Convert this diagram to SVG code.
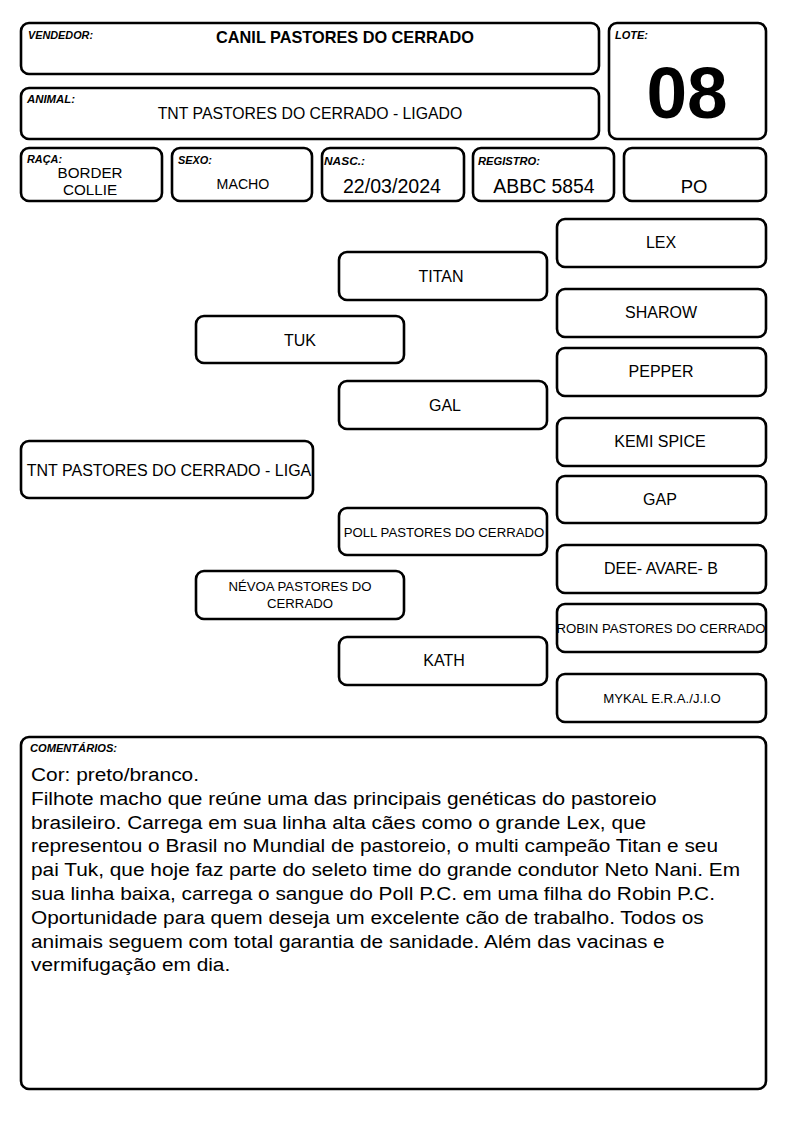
<svg xmlns="http://www.w3.org/2000/svg" width="794" height="1123" viewBox="0 0 794 1123">
<style>
.box{fill:#fff;stroke:#000;stroke-width:2.6}
.lbl{font-family:"Liberation Sans",Arial,sans-serif;font-size:10.2px;font-weight:bold;font-style:italic;fill:#000}
.t{font-family:"Liberation Sans",Arial,sans-serif;fill:#000;text-anchor:middle}
.p{font-size:16px}
.s{font-size:13.2px}
.c{font-family:"Liberation Sans",Arial,sans-serif;font-size:19px;fill:#000}
</style>
<rect width="794" height="1123" fill="#fff"/>
<g id="vendedor">
<rect class="box" x="21" y="23" width="578" height="51" rx="8"/>
<text class="lbl" x="28" y="38.5" textLength="65" lengthAdjust="spacingAndGlyphs">VENDEDOR:</text>
<text class="t" x="345" y="42.7" font-size="16.3" font-weight="bold">CANIL PASTORES DO CERRADO</text>
</g>
<g id="lote">
<rect class="box" x="609" y="23" width="157" height="116" rx="8"/>
<text class="lbl" x="615" y="38.5" textLength="33" lengthAdjust="spacingAndGlyphs">LOTE:</text>
<text class="t" x="687" y="118" font-size="73" font-weight="bold">08</text>
</g>
<g id="animal">
<rect class="box" x="21" y="88" width="578" height="51" rx="8"/>
<text class="lbl" x="27" y="103" textLength="48" lengthAdjust="spacingAndGlyphs">ANIMAL:</text>
<text class="t" x="310" y="119" font-size="15.8">TNT PASTORES DO CERRADO - LIGADO</text>
</g>
<g id="raca">
<rect class="box" x="21" y="148" width="141" height="53" rx="8"/>
<text class="lbl" x="27" y="162.7" textLength="35" lengthAdjust="spacingAndGlyphs">RAÇA:</text>
<text class="t" x="90" y="178" font-size="15.2">BORDER</text>
<text class="t" x="90" y="195" font-size="15.2">COLLIE</text>
</g>
<g id="sexo">
<rect class="box" x="172" y="148" width="140" height="53" rx="8"/>
<text class="lbl" x="178" y="164" textLength="34" lengthAdjust="spacingAndGlyphs">SEXO:</text>
<text class="t" x="243" y="189" font-size="14.2">MACHO</text>
</g>
<g id="nasc">
<rect class="box" x="322" y="148" width="142" height="53" rx="8"/>
<text class="lbl" x="324" y="164.5" textLength="41" lengthAdjust="spacingAndGlyphs">NASC.:</text>
<text class="t" x="392" y="193.3" font-size="19.6">22/03/2024</text>
</g>
<g id="registro">
<rect class="box" x="473" y="148" width="141" height="53" rx="8"/>
<text class="lbl" x="478" y="164.5" textLength="62" lengthAdjust="spacingAndGlyphs">REGISTRO:</text>
<text class="t" x="544" y="193.3" font-size="19.4">ABBC 5854</text>
</g>
<g id="po">
<rect class="box" x="624" y="148" width="142" height="53" rx="8"/>
<text class="t" x="694" y="193.3" font-size="18.5">PO</text>
</g>
<g id="connectors"></g>
<g id="tnt">
<rect class="box" x="21" y="441" width="292" height="57" rx="8"/>
<text class="t p" x="169" y="476">TNT PASTORES DO CERRADO - LIGA</text>
</g>
<g id="tuk">
<rect class="box" x="196" y="316" width="208" height="47" rx="8"/>
<text class="t p" x="300" y="346">TUK</text>
</g>
<g id="nevoa">
<rect class="box" x="196" y="571" width="208" height="48" rx="8"/>
<text class="t s" x="300" y="591">NÉVOA PASTORES DO</text>
<text class="t s" x="300" y="608">CERRADO</text>
</g>
<g id="titan">
<rect class="box" x="339" y="252" width="208" height="48" rx="8"/>
<text class="t p" x="441" y="282">TITAN</text>
</g>
<g id="gal">
<rect class="box" x="339" y="381" width="208" height="48" rx="8"/>
<text class="t p" x="445" y="411">GAL</text>
</g>
<g id="poll">
<rect class="box" x="339" y="508" width="208" height="47" rx="8"/>
<text class="t s" x="444" y="537">POLL PASTORES DO CERRADO</text>
</g>
<g id="kath">
<rect class="box" x="339" y="637" width="208" height="48" rx="8"/>
<text class="t p" x="444" y="666">KATH</text>
</g>
<g id="lex">
<rect class="box" x="557" y="219" width="209" height="48" rx="8"/>
<text class="t p" x="661" y="248">LEX</text>
</g>
<g id="sharow">
<rect class="box" x="557" y="289" width="209" height="48" rx="8"/>
<text class="t p" x="661" y="318">SHAROW</text>
</g>
<g id="pepper">
<rect class="box" x="557" y="348" width="209" height="48" rx="8"/>
<text class="t p" x="661" y="377">PEPPER</text>
</g>
<g id="kemi">
<rect class="box" x="557" y="418" width="209" height="48" rx="8"/>
<text class="t p" x="660" y="447">KEMI SPICE</text>
</g>
<g id="gap">
<rect class="box" x="557" y="476" width="209" height="47" rx="8"/>
<text class="t p" x="660" y="505">GAP</text>
</g>
<g id="dee">
<rect class="box" x="557" y="545" width="209" height="48" rx="8"/>
<text class="t p" x="661" y="574">DEE- AVARE- B</text>
</g>
<g id="robin">
<rect class="box" x="557" y="604" width="209" height="48" rx="8"/>
<text class="t s" x="661" y="633">ROBIN PASTORES DO CERRADO</text>
</g>
<g id="mykal">
<rect class="box" x="557" y="674" width="209" height="48" rx="8"/>
<text class="t s" x="662" y="703">MYKAL E.R.A./J.I.O</text>
</g>
<g id="comentarios">
<rect class="box" x="21" y="737" width="745" height="352" rx="8"/>
<text class="lbl" x="30" y="752" textLength="87" lengthAdjust="spacingAndGlyphs">COMENTÁRIOS:</text>
<g transform="matrix(1.0975 0 0 1 -3.02 0)">
<text class="c" x="31" y="781">Cor: preto/branco.</text>
<text class="c" x="31" y="804.8">Filhote macho que reúne uma das principais genéticas do pastoreio</text>
<text class="c" x="31" y="828.6">brasileiro. Carrega em sua linha alta cães como o grande Lex, que</text>
<text class="c" x="31" y="852.4">representou o Brasil no Mundial de pastoreio, o multi campeão Titan e seu</text>
<text class="c" x="31" y="876.2">pai Tuk, que hoje faz parte do seleto time do grande condutor Neto Nani. Em</text>
<text class="c" x="31" y="900">sua linha baixa, carrega o sangue do Poll P.C. em uma filha do Robin P.C.</text>
<text class="c" x="31" y="923.8">Oportunidade para quem deseja um excelente cão de trabalho. Todos os</text>
<text class="c" x="31" y="947.6">animais seguem com total garantia de sanidade. Além das vacinas e</text>
<text class="c" x="31" y="971.4">vermifugação em dia.</text>
</g>
</g>
</svg>
